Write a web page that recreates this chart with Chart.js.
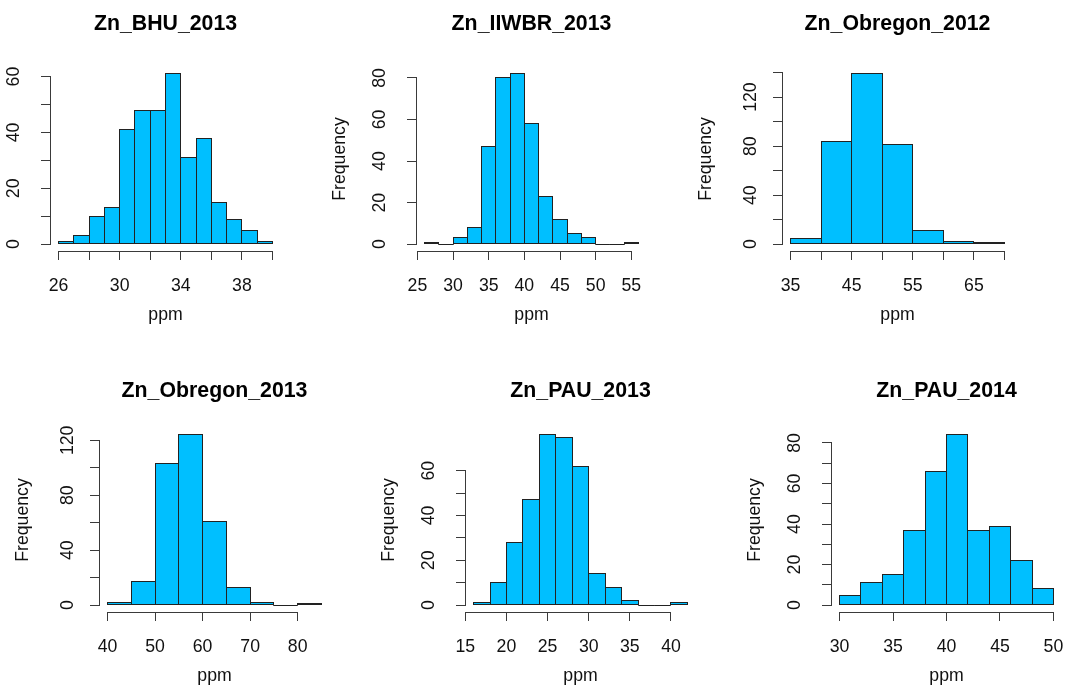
<!DOCTYPE html>
<html>
<head>
<meta charset="utf-8">
<script src="https://cdn.jsdelivr.net/npm/chart.js@4.4.0/dist/chart.umd.min.js"></script>
<style>
  html, body { margin: 0; padding: 0; background: #fff; }
  body { position: relative; width: 1065px; height: 688px; overflow: hidden; }
  canvas { position: absolute; }
</style>
</head>
<body>
<script>
// Zinc concentration (ppm) histograms: bin edges, counts per bin, axis ticks and labels.

const bhu2013Breaks = [26, 27, 28, 29, 30, 31, 32, 33, 34, 35, 36, 37, 38, 39, 40];
const bhu2013Counts = [1, 3, 10, 13, 41, 48, 48, 61, 31, 38, 15, 9, 5, 1];
const bhu2013XTicks = [26, 28, 30, 32, 34, 36, 38, 40];
const bhu2013XLabels = ['26', '', '30', '', '34', '', '38', ''];
const bhu2013YTicks = [0, 10, 20, 30, 40, 50, 60];
const bhu2013YLabels = ['0', '', '20', '', '40', '', '60'];

const iiwbr2013Breaks = [26, 28, 30, 32, 34, 36, 38, 40, 42, 44, 46, 48, 50, 52, 54, 56];
const iiwbr2013Counts = [1, 0, 3, 8, 47, 80, 82, 58, 23, 12, 5, 3, 0, 0, 1];
const iiwbr2013XTicks = [25, 30, 35, 40, 45, 50, 55];
const iiwbr2013XLabels = ['25', '30', '35', '40', '45', '50', '55'];
const iiwbr2013YTicks = [0, 20, 40, 60, 80];
const iiwbr2013YLabels = ['0', '20', '40', '60', '80'];

const obregon2012Breaks = [35, 40, 45, 50, 55, 60, 65, 70];
const obregon2012Counts = [5, 84, 139, 81, 11, 2, 1];
const obregon2012XTicks = [35, 40, 45, 50, 55, 60, 65, 70];
const obregon2012XLabels = ['35', '', '45', '', '55', '', '65', ''];
const obregon2012YTicks = [0, 20, 40, 60, 80, 100, 120, 140];
const obregon2012YLabels = ['0', '', '40', '', '80', '', '120', ''];

const obregon2013Breaks = [40, 45, 50, 55, 60, 65, 70, 75, 80, 85];
const obregon2013Counts = [2, 17, 103, 124, 61, 13, 2, 0, 1];
const obregon2013XTicks = [40, 50, 60, 70, 80];
const obregon2013XLabels = ['40', '50', '60', '70', '80'];
const obregon2013YTicks = [0, 20, 40, 60, 80, 100, 120];
const obregon2013YLabels = ['0', '', '40', '', '80', '', '120'];

const pau2013Breaks = [16, 18, 20, 22, 24, 26, 28, 30, 32, 34, 36, 38, 40, 42];
const pau2013Counts = [1, 10, 28, 47, 76, 75, 62, 14, 8, 2, 0, 0, 1];
const pau2013XTicks = [15, 20, 25, 30, 35, 40];
const pau2013XLabels = ['15', '20', '25', '30', '35', '40'];
const pau2013YTicks = [0, 10, 20, 30, 40, 50, 60];
const pau2013YLabels = ['0', '', '20', '', '40', '', '60'];

const pau2014Breaks = [30, 32, 34, 36, 38, 40, 42, 44, 46, 48, 50];
const pau2014Counts = [5, 11, 15, 37, 66, 84, 37, 39, 22, 8];
const pau2014XTicks = [30, 35, 40, 45, 50];
const pau2014XLabels = ['30', '35', '40', '45', '50'];
const pau2014YTicks = [0, 10, 20, 30, 40, 50, 60, 70, 80];
const pau2014YLabels = ['0', '', '20', '', '40', '', '60', '', '80'];

const panelTitles = ['Zn_BHU_2013', 'Zn_IIWBR_2013', 'Zn_Obregon_2012',
                     'Zn_Obregon_2013', 'Zn_PAU_2013', 'Zn_PAU_2014'];
const xAxisTitle = 'ppm';
const yAxisTitle = 'Frequency';

// ---- styling / layout ----
const FAMILY = "'Liberation Sans', Arial, Helvetica, sans-serif";
const AXIS_SIZE = 17.7;
const TITLE_SIZE = 21.3;
const FILL = '#00BFFF';
const EDGE = '#222222';
const AXIS_COLOR = '#3a3a3a';
const INK = '#111111';
const PLOT_W = 231, PLOT_H = 184;
const LEFT_SPACE = 90, RIGHT_SPACE = 30, TOP_SPACE = 67, BOTTOM_SPACE = 80;
const TICK_LEN = 9;

const panels = [
  { title: panelTitles[0], breaks: bhu2013Breaks, counts: bhu2013Counts, xTicks: bhu2013XTicks, xLabels: bhu2013XLabels, yTicks: bhu2013YTicks, yLabels: bhu2013YLabels, left: 50, top: 67, titleTop: 11.2 },
  { title: panelTitles[1], breaks: iiwbr2013Breaks, counts: iiwbr2013Counts, xTicks: iiwbr2013XTicks, xLabels: iiwbr2013XLabels, yTicks: iiwbr2013YTicks, yLabels: iiwbr2013YLabels, left: 416, top: 67, titleTop: 11.2 },
  { title: panelTitles[2], breaks: obregon2012Breaks, counts: obregon2012Counts, xTicks: obregon2012XTicks, xLabels: obregon2012XLabels, yTicks: obregon2012YTicks, yLabels: obregon2012YLabels, left: 782, top: 67, titleTop: 11.2 },
  { title: panelTitles[3], breaks: obregon2013Breaks, counts: obregon2013Counts, xTicks: obregon2013XTicks, xLabels: obregon2013XLabels, yTicks: obregon2013YTicks, yLabels: obregon2013YLabels, left: 99, top: 428, titleTop: 17.2 },
  { title: panelTitles[4], breaks: pau2013Breaks, counts: pau2013Counts, xTicks: pau2013XTicks, xLabels: pau2013XLabels, yTicks: pau2013YTicks, yLabels: pau2013YLabels, left: 465, top: 428, titleTop: 17.2 },
  { title: panelTitles[5], breaks: pau2014Breaks, counts: pau2014Counts, xTicks: pau2014XTicks, xLabels: pau2014XLabels, yTicks: pau2014YTicks, yLabels: pau2014YLabels, left: 831, top: 428, titleTop: 17.2 }
];

function crisp(px) { return Math.round(px - 0.5) + 0.5; }

// Crisp 1px outline around every histogram bar (empty bins become a flat line).
const barOutlines = {
  id: 'barOutlines',
  afterDatasetsDraw(chart) {
    const ctx = chart.ctx;
    ctx.save();
    ctx.strokeStyle = EDGE;
    ctx.lineWidth = 1;
    chart.getDatasetMeta(0).data.forEach((bar) => {
      const { x, y, base, width } = bar.getProps(['x', 'y', 'base', 'width'], true);
      const l = crisp(x - width / 2), r = crisp(x + width / 2);
      const t = crisp(Math.min(y, base)), b = crisp(Math.max(y, base));
      ctx.strokeRect(l, t, r - l, b - t);
    });
    ctx.restore();
  }
};

// Axis lines that run only from the first to the last tick.
const tickSpanAxes = {
  id: 'tickSpanAxes',
  afterDraw(chart) {
    const ctx = chart.ctx, area = chart.chartArea;
    const xs = chart.scales.x, ys = chart.scales.y;
    const xFirst = xs.getPixelForValue(xs.ticks[0].value);
    const xLast = xs.getPixelForValue(xs.ticks[xs.ticks.length - 1].value);
    const yFirst = ys.getPixelForValue(ys.ticks[0].value);
    const yLast = ys.getPixelForValue(ys.ticks[ys.ticks.length - 1].value);
    ctx.save();
    ctx.strokeStyle = AXIS_COLOR;
    ctx.lineWidth = 1;
    ctx.beginPath();
    const yb = crisp(area.bottom);
    ctx.moveTo(crisp(xFirst) - 0.5, yb);
    ctx.lineTo(crisp(xLast) + 0.5, yb);
    const xl = crisp(area.left);
    ctx.moveTo(xl, crisp(yFirst) + 0.5);
    ctx.lineTo(xl, crisp(yLast) - 0.5);
    ctx.stroke();
    ctx.restore();
  }
};

panels.forEach((p) => {
  const canvas = document.createElement('canvas');
  const w = LEFT_SPACE + PLOT_W + RIGHT_SPACE;
  const h = TOP_SPACE + PLOT_H + BOTTOM_SPACE;
  canvas.width = w; canvas.height = h;
  canvas.style.width = w + 'px'; canvas.style.height = h + 'px';
  canvas.style.left = (p.left - LEFT_SPACE) + 'px';
  canvas.style.top = (p.top - TOP_SPACE) + 'px';
  document.body.appendChild(canvas);

  const b0 = p.breaks[0], b1 = p.breaks[p.breaks.length - 1];
  const xSpan = b1 - b0;
  const yMaxData = Math.max(...p.counts);
  const digits = Math.max(...p.yLabels.map(s => s.length));
  const labelGap = digits >= 3 ? 7.4 : 17.3;

  const points = p.counts.map((c, i) => ({ x: (p.breaks[i] + p.breaks[i + 1]) / 2, y: c }));
  const axisFont = { family: FAMILY, size: AXIS_SIZE };

  new Chart(canvas, {
    type: 'bar',
    data: {
      datasets: [{
        data: points,
        backgroundColor: FILL,
        borderWidth: 0,
        barPercentage: 1,
        categoryPercentage: 1,
        inflateAmount: 0
      }]
    },
    options: {
      responsive: false,
      animation: false,
      events: [],
      layout: { padding: { left: 0, right: RIGHT_SPACE, top: 0, bottom: 0 } },
      plugins: {
        legend: { display: false },
        tooltip: { enabled: false },
        title: {
          display: true,
          text: p.title,
          fullSize: false,
          color: '#000',
          font: { family: FAMILY, size: TITLE_SIZE, weight: 'bold' },
          padding: { top: p.titleTop, bottom: TOP_SPACE - p.titleTop - TITLE_SIZE * 1.2 }
        }
      },
      scales: {
        x: {
          type: 'linear',
          offset: false,
          min: b0 - 0.04 * xSpan,
          max: b1 + 0.04 * xSpan,
          afterBuildTicks: (s) => { s.ticks = p.xTicks.map(v => ({ value: v })); },
          afterFit: (s) => { s.height = BOTTOM_SPACE; },
          border: { display: false },
          grid: { display: true, offset: false, drawOnChartArea: false, drawTicks: true, tickLength: TICK_LEN, color: AXIS_COLOR, lineWidth: 1 },
          ticks: {
            autoSkip: false, maxRotation: 0, minRotation: 0, padding: 15,
            color: INK, font: axisFont,
            callback: (v, i) => p.xLabels[i]
          },
          title: { display: true, text: xAxisTitle, color: INK, font: axisFont, padding: { top: 0, bottom: 5 } }
        },
        y: {
          type: 'linear',
          min: -0.04 * yMaxData,
          max: 1.04 * yMaxData,
          afterBuildTicks: (s) => { s.ticks = p.yTicks.map(v => ({ value: v })); },
          afterFit: (s) => { s.width = LEFT_SPACE; },
          border: { display: false },
          grid: { display: true, drawOnChartArea: false, drawTicks: true, tickLength: TICK_LEN, color: AXIS_COLOR, lineWidth: 1 },
          ticks: {
            autoSkip: false, minRotation: 90, maxRotation: 90, crossAlign: 'center',
            padding: labelGap, color: INK, font: axisFont,
            callback: (v, i) => p.yLabels[i]
          },
          title: { display: true, text: yAxisTitle, color: INK, font: axisFont, padding: { top: 3, bottom: 0 } }
        }
      }
    },
    plugins: [barOutlines, tickSpanAxes]
  });
});
</script>
</body>
</html>
